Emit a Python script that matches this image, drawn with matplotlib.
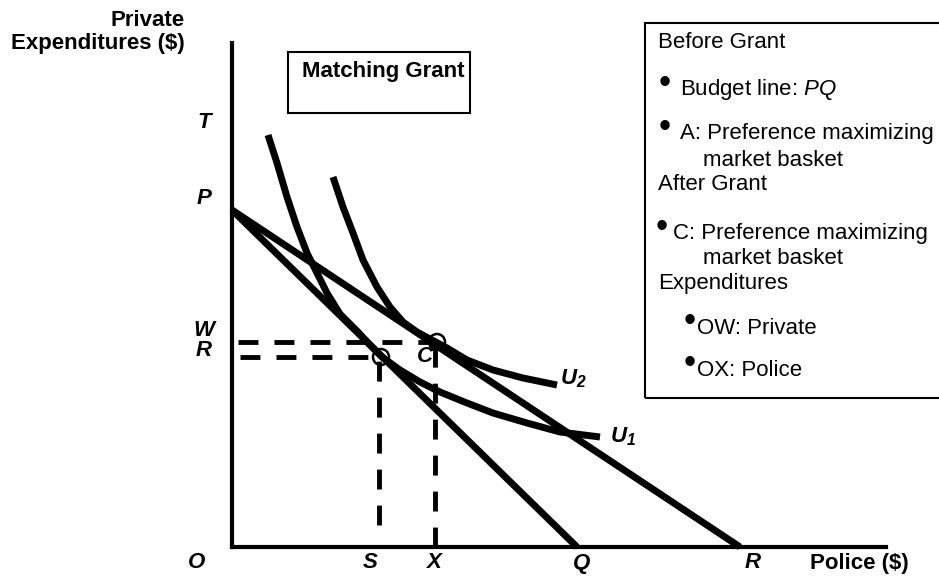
import matplotlib
matplotlib.use("Agg")
import matplotlib.pyplot as plt
from matplotlib.patches import Rectangle, Circle

plt.rcParams['font.family'] = ['Liberation Sans', 'DejaVu Sans']
plt.rcParams['mathtext.fontset'] = 'custom'
plt.rcParams['mathtext.rm'] = 'Liberation Sans'
plt.rcParams['mathtext.it'] = 'Liberation Sans:italic'
plt.rcParams['mathtext.bf'] = 'Liberation Sans:bold:italic'

# ---- data (economic diagram, arbitrary units) ----
P_int = 337          # private-expenditure intercept of both budget lines
Q_int = 345          # police intercept before grant
R_int = 508          # police intercept after grant
x_axis_max = 654
y_axis_max = 504

A_point = (147, 190)   # before grant optimum (S, R)
C_point = (203, 205)   # after grant optimum (X, W)

U1_x = [36, 45, 55, 65, 75, 85, 95, 108, 125, 138, 150, 168, 188, 208, 235, 261, 295, 328, 368]
U1_y = [412, 384, 350, 320, 294, 274, 254, 233, 216, 202, 190, 177, 165, 155, 144, 134, 124, 115, 110]
U2_x = [101, 111, 121, 131, 145, 158, 171, 185, 200, 215, 235, 261, 291, 325]
U2_y = [370, 340, 314, 287, 260, 240, 225, 215, 207, 199, 187, 177, 169, 162]

axis_letters = ['T', 'P', 'W', 'R']
axis_letter_y = [425, 349, 217, 197]
base_letters = ['O', 'S', 'X', 'Q', 'R']
base_letter_x = [-35, 138, 201, 350, 521]

legend_lines = [
    ("Before Grant", None),
    ("Budget line: $\\mathit{PQ}$", 'b'),
    ("A: Preference maximizing", 'b'),
    ("market basket", 'i'),
    ("After Grant", None),
    ("C: Preference maximizing", 'c'),
    ("market basket", 'i'),
    ("Expenditures", None),
    ("OW: Private", 'd'),
    ("OX: Police", 'd'),
]
legend_y = [504, 457, 414, 387, 362, 314, 289, 264, 219, 177]

W, H = 939, 581
fig = plt.figure(figsize=(W / 100, H / 100), dpi=100)
ax = fig.add_axes([0, 0, 1, 1])
ax.set_xlim(-232, W - 232)
ax.set_ylim(-(H - 547), 547)
ax.axis('off')

k = 'black'
# axes
ax.plot([0, 0], [0, y_axis_max], color=k, lw=3, solid_capstyle='projecting')
ax.plot([0, x_axis_max], [0, 0], color=k, lw=3, solid_capstyle='projecting')

# budget lines
ax.plot([0, Q_int], [P_int, 0], color=k, lw=5, solid_capstyle='butt')
ax.plot([0, R_int], [P_int, 0], color=k, lw=5, solid_capstyle='butt')

# indifference curves
ax.plot(U1_x, U1_y, color=k, lw=5, solid_capstyle='butt', solid_joinstyle='round')
ax.plot(U2_x, U2_y, color=k, lw=5, solid_capstyle='butt', solid_joinstyle='round')

# dashed guides
dash = (0, (4.1, 3.3))
ax.plot([6, C_point[0]], [C_point[1], C_point[1]], color=k, lw=3.5, linestyle=dash, dash_capstyle='butt')
ax.plot([8, A_point[0]], [A_point[1], A_point[1]], color=k, lw=3.5, linestyle=dash, dash_capstyle='butt')
ax.plot([A_point[0], A_point[0]], [22, A_point[1]], color=k, lw=3.5, linestyle=dash, dash_capstyle='butt')
ax.plot([C_point[0], C_point[0]], [0, C_point[1]], color=k, lw=3.5, linestyle=dash, dash_capstyle='butt')

# open circles
for pt in (A_point, C_point):
    ax.add_patch(Circle((pt[0] + 2, pt[1]), 8, fill=False, edgecolor=k, lw=1.8, zorder=5))

fs = 16
bi = dict(fontsize=fs, fontweight='bold', fontstyle='italic', ha='center', va='center')
for lab, yv in zip(axis_letters, axis_letter_y):
    ax.text(-28, yv, lab, **bi)
for lab, xv in zip(base_letters, base_letter_x):
    ax.text(xv, -16, lab, **bi)
ax.text(193, 190, 'C', **bi)
ax.text(341, 168, r'$\mathbf{U_2}$', fontsize=fs, ha='center', va='center')
ax.text(391, 110, r'$\mathbf{U_1}$', fontsize=fs, ha='center', va='center')

ax.text(-47, 537, 'Private\nExpenditures ($)', fontsize=fs, fontweight='bold',
        ha='right', va='top', multialignment='right', linespacing=1.15)
ax.text(627, -16, 'Police ($)', fontsize=fs, fontweight='bold', ha='center', va='center')

# Matching Grant box
ax.add_patch(Rectangle((56, 434), 182, 61, fill=False, edgecolor=k, lw=1.5))
ax.text(70, 475, 'Matching Grant', fontsize=fs, fontweight='bold', ha='left', va='center')

# legend box
ax.add_patch(Rectangle((413, 149), 320, 375, fill=False, edgecolor=k, lw=1.5))
for (txt, kind), yv in zip(legend_lines, legend_y):
    if kind is None:
        ax.text(426, yv, txt, fontsize=fs, ha='left', va='center')
    elif kind == 'i':
        ax.text(471, yv, txt, fontsize=fs, ha='left', va='center')
    elif kind == 'b':
        ax.text(433, yv + 6, '\u2022', fontsize=25, ha='center', va='center')
        ax.text(448, yv, txt, fontsize=fs, ha='left', va='center')
    elif kind == 'c':
        ax.text(430, yv + 6, '\u2022', fontsize=25, ha='center', va='center')
        ax.text(441, yv, txt, fontsize=fs, ha='left', va='center')
    elif kind == 'd':
        ax.text(458, yv + 6, '\u2022', fontsize=25, ha='center', va='center')
        ax.text(465, yv, txt, fontsize=fs, ha='left', va='center')

fig.savefig('out.png', dpi=100)
